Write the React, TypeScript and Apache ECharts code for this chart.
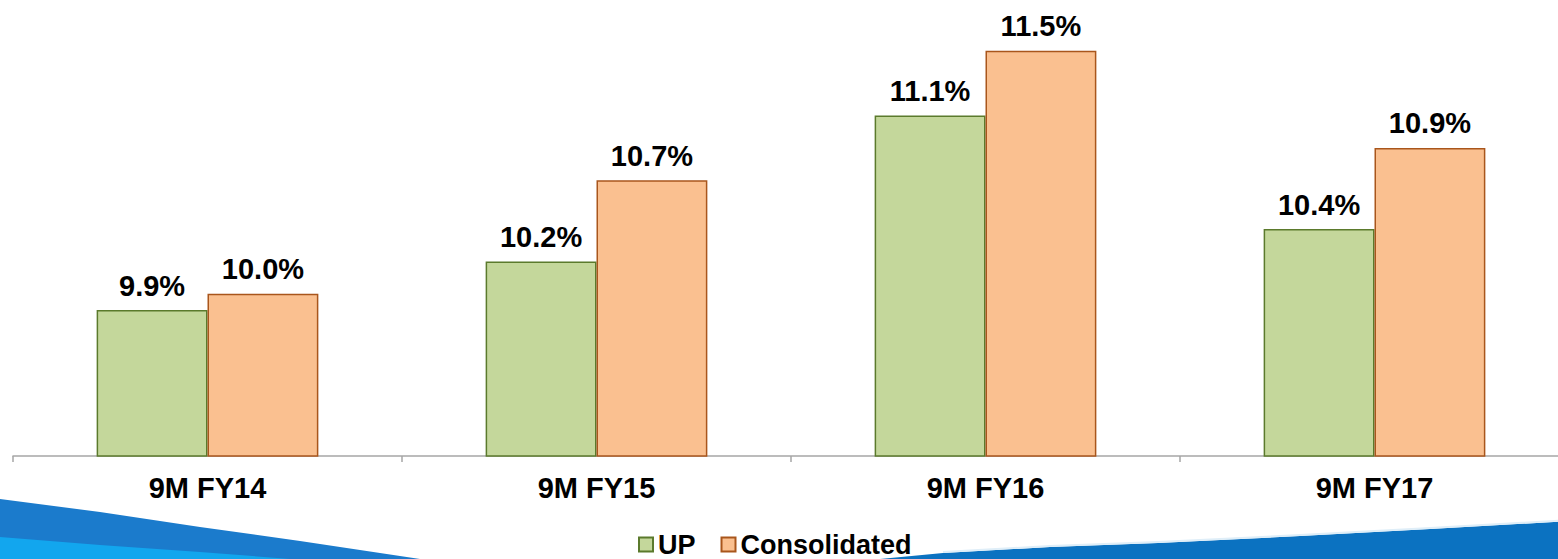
import React, { useEffect, useRef } from "react";
import * as echarts from "echarts";

const categories = ["9M FY14", "9M FY15", "9M FY16", "9M FY17"];
const upValues = [9.9, 10.2, 11.1, 10.4];
const consolidatedValues = [10.0, 10.7, 11.5, 10.9];
const seriesNames = ["UP", "Consolidated"];

const FONT = "'Liberation Sans', Arial, sans-serif";

export default function App() {
  const ref = useRef<HTMLDivElement>(null);
  useEffect(() => {
    if (!ref.current) return;
    const chart = echarts.init(ref.current, null, { renderer: "svg" });
    const labelCfg = {
      show: true,
      position: "top",
      distance: 10,
      fontFamily: FONT,
      fontSize: 29,
      fontWeight: "bold",
      color: "#000",
      formatter: (p: any) => Number(p.value).toFixed(1) + "%",
    };
    chart.setOption({
      animation: false,
      backgroundColor: "#ffffff",
      graphic: [
        {
          type: "polygon",
          silent: true,
          z: 0,
          shape: {
            points: [
              [0, 499], [100, 512], [200, 527], [300, 541], [420, 559], [0, 559],
            ],
          },
          style: { fill: "#1b7bcc" },
        },
        {
          type: "polygon",
          silent: true,
          z: 0,
          shape: {
            points: [
              [0, 537], [100, 545], [200, 552], [290, 559], [0, 559],
            ],
          },
          style: { fill: "#12a6ee" },
        },
        {
          type: "polygon",
          silent: true,
          z: 0,
          shape: {
            points: [
              [880, 559], [943, 553], [1050, 547], [1158, 543], [1300, 536], [1430, 529], [1570, 521], [1570, 559],
            ],
          },
          style: { fill: "#0b72c1" },
        },
        {
          type: "polyline",
          silent: true,
          z: 0,
          shape: {
            points: [
              [943, 552], [1050, 546], [1158, 542], [1300, 535], [1430, 528], [1570, 520],
            ],
          },
          style: { stroke: "#dfeef8", lineWidth: 2, fill: "none" },
        },
      ],
      legend: {
        data: seriesNames,
        top: 531,
        left: 638,
        itemWidth: 14,
        itemHeight: 14,
        itemGap: 25,
        icon: "rect",
        padding: 0,
        textStyle: {
          fontFamily: FONT,
          fontSize: 27,
          lineHeight: 27,
          fontWeight: "bold",
          color: "#000",
        },
      },
      grid: {
        left: 13,
        right: 1,
        top: 2,
        bottom: 103,
        containLabel: false,
      },
      xAxis: {
        type: "category",
        data: categories,
        boundaryGap: true,
        axisLine: { show: true, lineStyle: { color: "#a6a6a6", width: 1.5 } },
        axisTick: { show: true, length: 6, lineStyle: { color: "#a6a6a6", width: 1.5 } },
        axisLabel: {
          margin: 17,
          fontFamily: FONT,
          fontSize: 29,
          fontWeight: "bold",
          color: "#000",
        },
      },
      yAxis: {
        type: "value",
        min: 9,
        max: 11.8,
        show: false,
        splitLine: { show: false },
      },
      series: [
        {
          name: seriesNames[0],
          type: "bar",
          data: upValues,
          barGap: "0%",
          barCategoryGap: "43%",
          itemStyle: { color: "#c4d79b", borderColor: "#5b7a2c", borderWidth: 1.5 },
          label: labelCfg,
        },
        {
          name: seriesNames[1],
          type: "bar",
          data: consolidatedValues,
          barGap: "0%",
          barCategoryGap: "43%",
          itemStyle: { color: "#fac090", borderColor: "#a9561c", borderWidth: 1.5 },
          label: labelCfg,
        },
      ],
    });
    return () => chart.dispose();
  }, []);
  return (
    <div style={{ position: "fixed", left: 0, top: 0, width: 1558, height: 559, overflow: "hidden" }}>
      <div ref={ref} style={{ width: 1570, height: 559 }} />
    </div>
  );
}
